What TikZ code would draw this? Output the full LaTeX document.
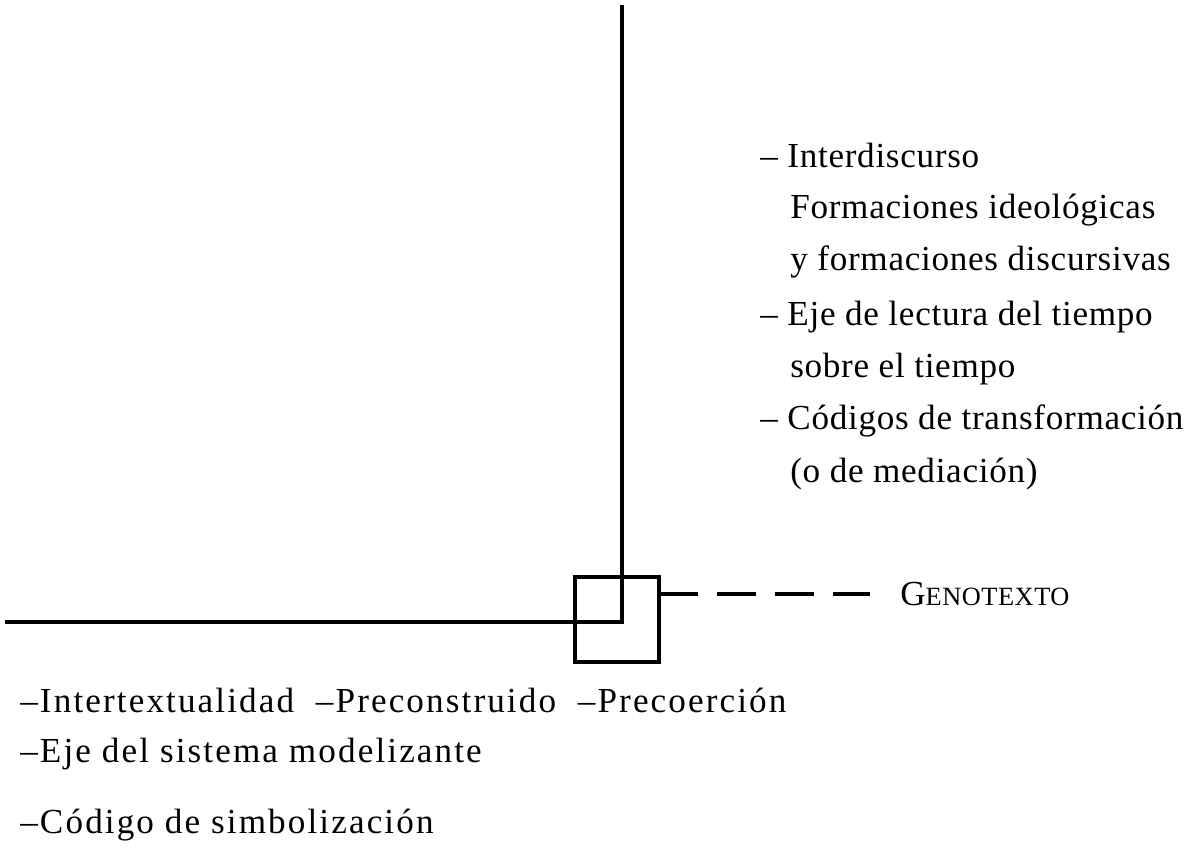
\documentclass[tikz,border=0pt]{standalone}
\usepackage{fontspec}
\setmainfont{Liberation Serif}
\begin{document}
\begin{tikzpicture}[x=0.02cm, y=-0.02cm,
    axis/.style={line width=2.2pt},
    txt/.style={anchor=west, inner sep=0pt, font=\fontsize{20}{30}\selectfont\addfontfeature{LetterSpace=2}},
    wide/.style={txt, font=\fontsize{20}{30}\selectfont\addfontfeature{LetterSpace=6}}]
    \useasboundingbox (0,0) rectangle (1200,851);
    % Axes
    \coordinate (top) at (622,5);
    \coordinate (corner) at (622,622);
    \coordinate (left) at (5,622);
    \draw[axis] (top) -- (corner) -- (left);
    % Box and label
    \draw[axis] (575,577) rectangle (659,662);
    \coordinate (boxr) at (659,594);
    \node[txt] (geno) at (900,594) {G{\fontsize{15}{20}\selectfont\addfontfeature{LetterSpace=2}ENOTEXTO}};
    \draw[axis, dash pattern=on 22pt off 11pt] (boxr) -- (870,594);
    % Right column
    \node[txt] (r1) at (760,155) {– Interdiscurso};
    \node[txt] (r2) at (790,210) {Formaciones ideológicas};
    \node[txt] (r3) at (790,262) {y formaciones discursivas};
    \node[txt] (r4) at (760,317) {– Eje de lectura del tiempo};
    \node[txt] (r5) at (790,369) {sobre el tiempo};
    \node[txt] (r6) at (760,421) {– Códigos de transformación};
    \node[txt] (r7) at (790,474) {(o de mediación)};
    % Bottom
    \node[wide] (b1) at (20,700) {–Intertextualidad\ \ –Preconstruido\ \ –Precoerción};
    \node[wide] (b2) at (20,754) {–Eje del sistema modelizante};
    \node[wide] (b3) at (20,825) {–Código de simbolización};
\end{tikzpicture}
\end{document}
